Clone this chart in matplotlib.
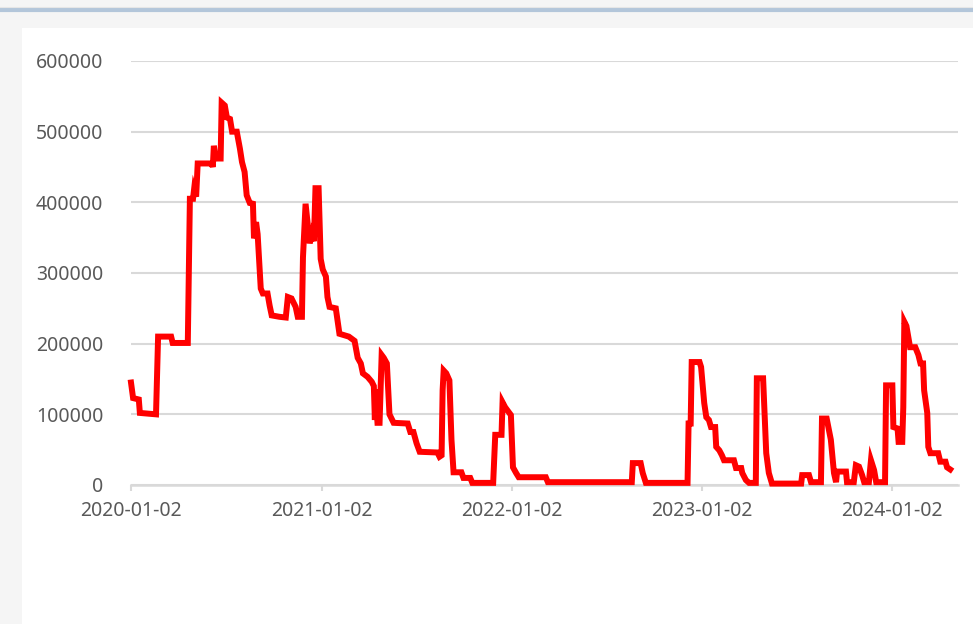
import matplotlib
matplotlib.use("Agg")
import matplotlib.pyplot as plt
import pandas as pd
from matplotlib.patches import Rectangle
from matplotlib.lines import Line2D

dates = [
    "2020-01-02", "2020-01-06", "2020-01-17", "2020-01-19", "2020-02-19", "2020-02-23",
    "2020-03-19", "2020-03-22", "2020-04-20", "2020-04-24", "2020-04-30", "2020-05-02",
    "2020-05-06", "2020-05-09", "2020-06-05", "2020-06-07", "2020-06-09", "2020-06-13",
    "2020-06-22", "2020-06-24", "2020-06-30", "2020-07-04", "2020-07-10", "2020-07-14",
    "2020-07-23", "2020-07-29", "2020-08-02", "2020-08-07", "2020-08-11", "2020-08-17",
    "2020-08-23", "2020-08-25", "2020-08-29", "2020-09-01", "2020-09-07", "2020-09-11",
    "2020-09-20", "2020-09-24", "2020-09-28", "2020-10-13", "2020-10-25", "2020-10-29",
    "2020-11-05", "2020-11-13", "2020-11-17", "2020-11-25", "2020-11-27", "2020-12-02",
    "2020-12-06", "2020-12-10", "2020-12-14", "2020-12-18", "2020-12-21", "2020-12-27",
    "2020-12-31", "2021-01-04", "2021-01-10", "2021-01-13", "2021-01-17", "2021-01-29",
    "2021-02-02", "2021-02-05", "2021-02-23", "2021-03-06", "2021-03-12", "2021-03-18",
    "2021-03-22", "2021-03-31", "2021-04-08", "2021-04-12", "2021-04-14", "2021-04-15",
    "2021-04-19", "2021-04-23", "2021-04-27", "2021-05-01", "2021-05-07", "2021-05-12",
    "2021-05-20", "2021-06-16", "2021-06-21", "2021-06-27", "2021-07-03", "2021-07-09",
    "2021-08-12", "2021-08-16", "2021-08-20", "2021-08-22", "2021-08-24", "2021-08-29",
    "2021-09-04", "2021-09-08", "2021-09-12", "2021-09-27", "2021-10-01", "2021-10-14",
    "2021-10-18", "2021-11-27", "2021-12-01", "2021-12-13", "2021-12-15", "2021-12-20",
    "2021-12-31", "2022-01-04", "2022-01-10", "2022-01-15", "2022-03-08", "2022-03-12",
    "2022-08-20", "2022-08-22", "2022-09-06", "2022-09-10", "2022-09-16", "2022-12-05",
    "2022-12-07", "2022-12-11", "2022-12-13", "2022-12-28", "2022-12-31", "2023-01-06",
    "2023-01-10", "2023-01-15", "2023-01-19", "2023-01-27", "2023-01-29", "2023-02-04",
    "2023-02-09", "2023-02-13", "2023-03-04", "2023-03-08", "2023-03-18", "2023-03-20",
    "2023-03-27", "2023-04-02", "2023-04-15", "2023-04-17", "2023-04-29", "2023-05-05",
    "2023-05-10", "2023-05-16", "2023-07-11", "2023-07-13", "2023-07-26", "2023-07-30",
    "2023-08-18", "2023-08-20", "2023-08-29", "2023-09-06", "2023-09-12", "2023-09-16",
    "2023-09-18", "2023-10-05", "2023-10-07", "2023-10-20", "2023-10-24", "2023-10-30",
    "2023-11-05", "2023-11-09", "2023-11-18", "2023-11-22", "2023-11-28", "2023-12-02",
    "2023-12-19", "2023-12-21", "2024-01-02", "2024-01-04", "2024-01-12", "2024-01-14",
    "2024-01-21", "2024-01-23", "2024-01-25", "2024-01-29", "2024-02-05", "2024-02-15",
    "2024-02-21", "2024-02-25", "2024-03-01", "2024-03-03", "2024-03-09", "2024-03-11",
    "2024-03-15", "2024-03-30", "2024-04-03", "2024-04-13", "2024-04-16", "2024-04-22",
]

values = [
    145000, 123000, 121000, 102000, 100000, 210000,
    210000, 201000, 201000, 405000, 405000, 418000,
    408000, 455000, 455000, 450000, 480000, 462000,
    462000, 541000, 537000, 520000, 518000, 500000,
    500000, 476000, 457000, 443000, 410000, 399000,
    398000, 349000, 372000, 355000, 278000, 271000,
    271000, 254000, 240000, 238000, 237000, 266000,
    264000, 252000, 238000, 238000, 322000, 398000,
    370000, 342000, 355000, 345000, 420000, 420000,
    320000, 305000, 295000, 266000, 252000, 250000,
    229000, 214000, 210000, 204000, 180000, 172000,
    158000, 153000, 146000, 140000, 92000, 135000,
    88000, 88000, 184000, 180000, 172000, 100000,
    88000, 87000, 75000, 75000, 59000, 47000,
    46000, 40000, 42000, 134000, 162000, 158000,
    148000, 64000, 18000, 18000, 10000, 10000,
    3000, 3000, 71000, 71000, 117000, 110000,
    99000, 25000, 17000, 11000, 11000, 4000,
    4000, 31000, 31000, 17000, 3000, 3000,
    87000, 87000, 174000, 174000, 167000, 116000,
    96000, 92000, 82000, 82000, 54000, 49000,
    42000, 35000, 35000, 24000, 24000, 17000,
    7000, 3000, 3000, 151000, 151000, 45000,
    17000, 2000, 2000, 14000, 14000, 4000,
    4000, 94000, 94000, 64000, 17000, 4000,
    19000, 19000, 4000, 4000, 28000, 26000,
    14000, 4000, 4000, 35000, 21000, 4000,
    4000, 141000, 141000, 82000, 80000, 61000,
    61000, 110000, 231000, 225000, 195000, 195000,
    184000, 172000, 172000, 134000, 102000, 54000,
    45000, 45000, 33000, 33000, 25000, 22000,
]

tick_labels = ["2020-01-02", "2021-01-02", "2022-01-02", "2023-01-02", "2024-01-02"]
y_ticks = [0, 100000, 200000, 300000, 400000, 500000, 600000]

x = pd.to_datetime(dates)
tick_pos = pd.to_datetime(tick_labels)

fig = plt.figure(figsize=(9.73, 6.24), dpi=100)
fig.patch.set_facecolor("#f5f5f5")
# white panel
fig.add_artist(Rectangle((22 / 973, 0), 1 - 22 / 973, 1 - 28 / 624,
                         transform=fig.transFigure, facecolor="white",
                         edgecolor="none", zorder=0))
# top accent line
fig.add_artist(Line2D([0, 1], [1 - 9.5 / 624, 1 - 9.5 / 624], transform=fig.transFigure,
                      color="#b3c6da", linewidth=3, zorder=1))
fig.add_artist(Line2D([0, 1], [1 - 7 / 624, 1 - 7 / 624], transform=fig.transFigure,
                      color="#e6e6e6", linewidth=0.8, zorder=1))

ax = fig.add_axes([131 / 973, 1 - 485 / 624, (958 - 131) / 973, (485 - 61) / 624])
ax.set_facecolor("none")

ax.plot(x, values, color="#ff0000", linewidth=4.3, solid_joinstyle="miter",
        zorder=3, clip_on=False)

ax.set_xlim(pd.Timestamp("2020-01-02"), pd.Timestamp("2024-05-07"))
ax.set_ylim(0, 600000)

ax.set_yticks(y_ticks)
ax.set_yticklabels([str(v) for v in y_ticks])
ax.set_xticks(tick_pos)
ax.set_xticklabels(tick_labels)

ax.grid(axis="y", color="#d9d9d9", linewidth=1.5, zorder=1)
ax.grid(axis="x", visible=False)
for s in ["top", "right", "left"]:
    ax.spines[s].set_visible(False)
ax.spines["bottom"].set_color("#d9d9d9")
ax.spines["bottom"].set_linewidth(1.8)

ax.tick_params(axis="y", length=0, pad=20, labelsize=14, labelcolor="#595959")
ax.tick_params(axis="x", length=4.3, width=1.5, color="#d9d9d9", pad=7,
               labelsize=14, labelcolor="#595959")
for lab in ax.get_xticklabels() + ax.get_yticklabels():
    lab.set_fontfamily(["Noto Sans", "DejaVu Sans"])

fig.savefig("out.png", dpi=100, facecolor=fig.get_facecolor())
